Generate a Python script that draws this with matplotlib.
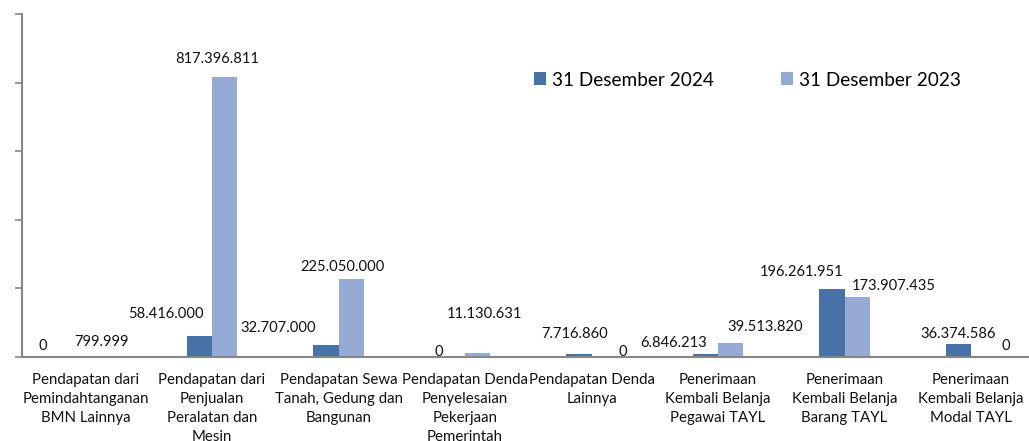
import matplotlib
matplotlib.use("Agg")
import matplotlib.pyplot as plt
import numpy as np

categories = [
    "Pendapatan dari\nPemindahtanganan\nBMN Lainnya",
    "Pendapatan dari\nPenjualan\nPeralatan dan\nMesin",
    "Pendapatan Sewa\nTanah, Gedung dan\nBangunan",
    "Pendapatan Denda\nPenyelesaian\nPekerjaan\nPemerintah",
    "Pendapatan Denda\nLainnya",
    "Penerimaan\nKembali Belanja\nPegawai TAYL",
    "Penerimaan\nKembali Belanja\nBarang TAYL",
    "Penerimaan\nKembali Belanja\nModal TAYL",
]
series_names = ["31 Desember 2024", "31 Desember 2023"]
values_2024 = [0, 58416000, 32707000, 0, 7716860, 6846213, 196261951, 36374586]
values_2023 = [799999, 817396811, 225050000, 11130631, 0, 39513820, 173907435, 0]
labels_2024 = ["0", "58.416.000", "32.707.000", "0", "7.716.860", "6.846.213", "196.261.951", "36.374.586"]
labels_2023 = ["799.999", "817.396.811", "225.050.000", "11.130.631", "0", "39.513.820", "173.907.435", "0"]

# label placement (style): x offset from category centre, y position in data units
lab_dx_2024 = [-0.336, -0.364, -0.479, -0.206, -0.131, -0.348, -0.336, -0.103]
lab_y_2024 = [30.7e6, 124e6, 83e6, 13e6, 66e6, 39e6, 247e6, 66e6]
lab_dx_2023 = [0.130, 0.039, 0.031, 0.150, 0.249, 0.371, 0.391, 0.276]
lab_y_2023 = [42.3e6, 869e6, 261e6, 124e6, 13e6, 86e6, 206e6, 31e6]

c24 = "#4672A8"
c23 = "#95AAD4"
axis_col = "#868686"
txt_col = "#111111"

plt.rcParams['font.family'] = ['Lato', 'DejaVu Sans']

W, H = 1029, 441
fig = plt.figure(figsize=(W / 100, H / 100), dpi=100)
left, right, top, bottom = 22.3, 1034.3, 14, 356.5
ax = fig.add_axes([left / W, 1 - bottom / H, (right - left) / W, (bottom - top) / H])

x = np.arange(len(categories))
bw = 0.2
ax.bar(x - bw / 2, values_2024, width=bw, color=c24, label=series_names[0], zorder=2)
ax.bar(x + bw / 2, values_2023, width=bw, color=c23, label=series_names[1], zorder=2)

for i in range(len(categories)):
    ax.text(x[i] + lab_dx_2024[i], lab_y_2024[i], labels_2024[i], ha='center', va='center',
            fontsize=10.6, color=txt_col)
    ax.text(x[i] + lab_dx_2023[i], lab_y_2023[i], labels_2023[i], ha='center', va='center',
            fontsize=10.6, color=txt_col)

ax.set_xlim(-0.5, len(categories) - 0.5)
ax.set_ylim(0, 1e9)
ax.set_yticks(np.arange(0, 1e9 + 1, 2e8))
ax.set_yticklabels([])
ax.tick_params(axis='y', direction='out', length=5, width=1.2, color=axis_col)
ax.set_xticks(x)
ax.set_xticklabels(categories, fontsize=10.8, color=txt_col)
for t in ax.get_xticklabels():
    t.set_linespacing(1.44)
ax.tick_params(axis='x', length=0, pad=12)
for s in ['top', 'right']:
    ax.spines[s].set_visible(False)
for s in ['left', 'bottom']:
    ax.spines[s].set_color(axis_col)
    ax.spines[s].set_linewidth(1.5)
ax.set_facecolor('none')

leg = fig.legend(loc='center left', bbox_to_anchor=(534 / W, 1 - 80 / H), ncol=2,
                 frameon=False, fontsize=13.7, handlelength=0.65, handleheight=0.65,
                 handletextpad=0.3, columnspacing=3.5, borderpad=0, borderaxespad=0)

fig.savefig("out.png", dpi=100)
